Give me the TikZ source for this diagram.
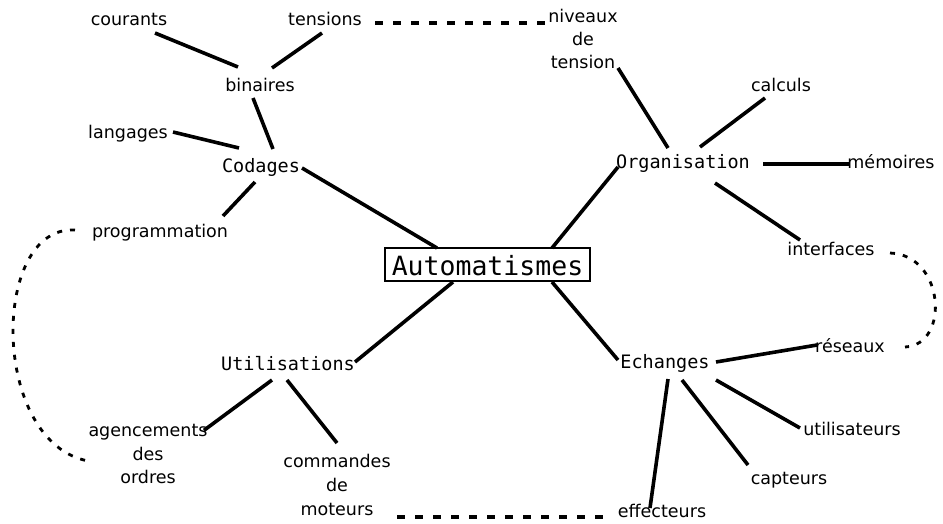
\documentclass[tikz,border=0pt]{standalone}
\usepackage{fontspec}
\setmainfont{DejaVu Sans}
\newfontfamily\monofont{DejaVu Sans Mono}
\begin{document}
\begin{tikzpicture}[x=1pt,y=-1pt,
  lbl/.style={inner sep=0pt, anchor=base, font=\fontsize{17.5}{24}\selectfont, align=center},
  mainlbl/.style={inner sep=0pt, anchor=base, font=\monofont\fontsize{18.5}{22}\selectfont},
  link/.style={line width=3.6pt},
  dlink/.style={line width=3.2pt, dash pattern=on 8pt off 10pt},
  dcurve/.style={line width=2.8pt, dash pattern=on 5pt off 8pt},
]
\useasboundingbox (0,0) rectangle (943,523);

% nodes (placed at baselines; multi-line nodes at the baseline of their last line)
\node[lbl] (courants) at (129,25) {courants};
\node[lbl] (tensions) at (325,25) {tensions};
\node[lbl] (binaires) at (260,91) {binaires};
\node[lbl] (langages) at (128,138) {langages};
\node[mainlbl] (codages) at (261,172) {Codages};
\node[lbl] (programmation) at (160,237) {programmation};
\node[draw, line width=1.5pt, inner sep=0pt, minimum width=205pt,
      text height=27pt, text depth=6pt, anchor=base,
      font=\monofont\fontsize{26.5}{30}\selectfont] (auto) at (487.5,275) {Automatismes};
\node[lbl, font=\fontsize{17.5}{23}\selectfont] (niveaux) at (583,68) {niveaux\\de\\tension};
\node[lbl] (calculs) at (781,91) {calculs};
\node[mainlbl] (organisation) at (683,168) {Organisation};
\node[lbl] (memoires) at (891,168) {mémoires};
\node[lbl] (interfaces) at (831,255) {interfaces};
\node[mainlbl] (utilisations) at (288,370) {Utilisations};
\node[lbl, font=\fontsize{17.5}{23.3}\selectfont] (agencements) at (148,483.3) {agencements\\des\\ordres};
\node[lbl] (commandes) at (337,515) {commandes\\de\\moteurs};
\node[mainlbl] (echanges) at (665,368) {Echanges};
\node[lbl] (reseaux) at (850,352) {réseaux};
\node[lbl] (utilisateurs) at (852,435) {utilisateurs};
\node[lbl] (capteurs) at (789,484) {capteurs};
\node[lbl] (effecteurs) at (662,517) {effecteurs};

% solid links
\draw[link] ([shift={(26,8)}]courants.base) -- ([shift={(-22,-24)}]binaires.base);
\draw[link] ([shift={(-3,8)}]tensions.base) -- ([shift={(12,-23)}]binaires.base);
\draw[link] ([shift={(-7,7)}]binaires.base) -- ([shift={(12,-23)}]codages.base);
\draw[link] ([shift={(45,-6)}]langages.base) -- ([shift={(-22,-24)}]codages.base);
\draw[link] ([shift={(-6,10)}]codages.base) -- ([shift={(63,-21)}]programmation.base);
\draw[link] ([shift={(41,-4)}]codages.base) -- ([shift={(-50.5,-27)}]auto.base);
\draw[link] ([shift={(35,0)}]niveaux.base) -- ([shift={(-15,-20)}]organisation.base);
\draw[link] ([shift={(-16,7)}]calculs.base) -- ([shift={(17,-21)}]organisation.base);
\draw[link] ([shift={(80,-4)}]organisation.base) -- ([shift={(-41,-4)}]memoires.base);
\draw[link] ([shift={(32,15)}]organisation.base) -- ([shift={(-31,-15)}]interfaces.base);
\draw[link] ([shift={(64.5,-27)}]auto.base) -- ([shift={(-65,-1)}]organisation.base);
\draw[link] ([shift={(-34.5,7)}]auto.base) -- ([shift={(67,-8)}]utilisations.base);
\draw[link] ([shift={(-16,10)}]utilisations.base) -- ([shift={(56,-53)}]agencements.base);
\draw[link] ([shift={(-1,10)}]utilisations.base) -- ([shift={(0,-72)}]commandes.base);
\draw[link] ([shift={(64.5,7)}]auto.base) -- ([shift={(-47,-8)}]echanges.base);
\draw[link] ([shift={(51,-6)}]echanges.base) -- ([shift={(-33,-7)}]reseaux.base);
\draw[link] ([shift={(51,12)}]echanges.base) -- ([shift={(-52,-7)}]utilisateurs.base);
\draw[link] ([shift={(17,12)}]echanges.base) -- ([shift={(-41,-19)}]capteurs.base);
\draw[link] ([shift={(3,11)}]echanges.base) -- ([shift={(-12,-9)}]effecteurs.base);

% dashed links
\draw[dlink] ([shift={(50,-2)}]tensions.base) -- ([shift={(-36,-45)}]niveaux.base);
\draw[dlink] ([shift={(60,2)}]commandes.base) -- ([shift={(-52,0)}]effecteurs.base);
\draw[dcurve] ([shift={(-85,-7)}]programmation.base) .. controls (-10,225) and (-10,445) .. ([shift={(-58,-22)}]agencements.base);
\draw[dcurve] ([shift={(59,-2)}]interfaces.base) .. controls (945,255) and (950,345) .. ([shift={(55,-5)}]reseaux.base);
\end{tikzpicture}
\end{document}
